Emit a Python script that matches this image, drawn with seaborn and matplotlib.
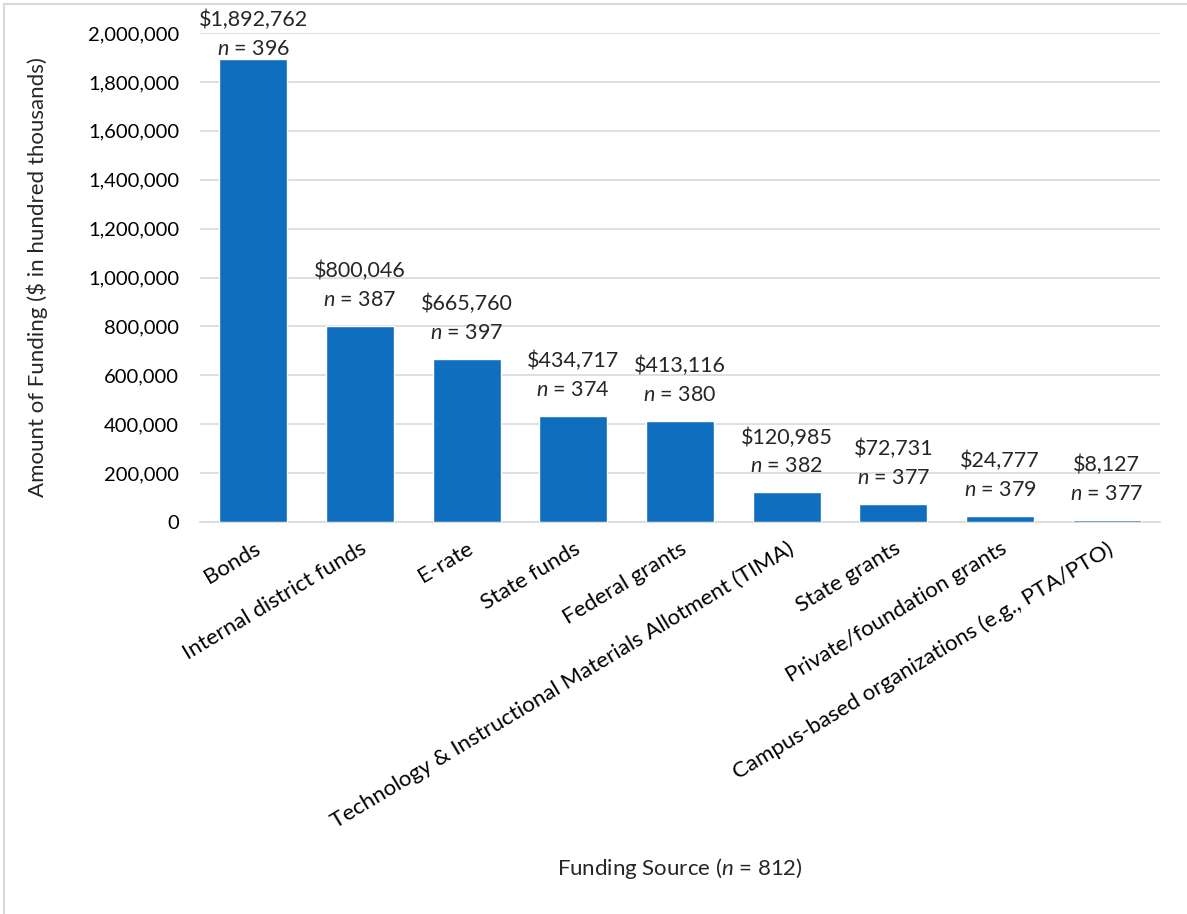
import matplotlib
matplotlib.use("Agg")
import matplotlib.pyplot as plt
import matplotlib.ticker as mticker
from matplotlib.patches import Rectangle
import seaborn as sns
import pandas as pd

sources = [
    "Bonds",
    "Internal district funds",
    "E-rate",
    "State funds",
    "Federal grants",
    "Technology & Instructional Materials Allotment (TIMA)",
    "State grants",
    "Private/foundation grants",
    "Campus-based organizations (e.g., PTA/PTO)",
]
amounts = [1892762, 800046, 665760, 434717, 413116, 120985, 72731, 24777, 8127]
respondents = [396, 387, 397, 374, 380, 382, 377, 379, 377]

sns.set_theme(style="white")
plt.rcParams["font.family"] = ["Lato", "DejaVu Sans"]
plt.rcParams["mathtext.fontset"] = "custom"
plt.rcParams["mathtext.it"] = "Lato:italic"
plt.rcParams["mathtext.rm"] = "Lato"

df = pd.DataFrame({"source": sources, "amount": amounts, "n": respondents})

W, H = 1187, 914
fig = plt.figure(figsize=(W / 100, H / 100), dpi=100)
ax = fig.add_axes([200 / W, 1 - 522 / H, 960 / W, 489 / H])

sns.barplot(data=df, x="source", y="amount", color="#106EBE", saturation=1,
            width=0.64, ax=ax, zorder=3)

ax.set_ylim(0, 2000000)
ax.set_xlim(-0.5, len(sources) - 0.5)
ax.yaxis.set_major_locator(mticker.MultipleLocator(200000))
ax.yaxis.set_major_formatter(mticker.FuncFormatter(lambda v, p: f"{int(v):,}"))
ax.grid(axis="y", color="#D9D9D9", linewidth=1.2, zorder=0)
for side in ["top", "right", "left"]:
    ax.spines[side].set_visible(False)
ax.spines["bottom"].set_color("#D9D9D9")
ax.spines["bottom"].set_linewidth(1.2)
ax.tick_params(axis="both", length=0, colors="black")
ax.tick_params(axis="y", labelsize=14.5, pad=15)
ax.tick_params(axis="x", labelsize=16, pad=12)
plt.setp(ax.get_xticklabels(), rotation=31, ha="right", rotation_mode="anchor")

ax.set_ylabel("Amount of Funding ($ in hundred thousands)", fontsize=16)
ax.set_xlabel(r"Funding Source ($\mathit{n}$ = 812)", fontsize=16)
ax.xaxis.set_label_coords(0.5, -0.683)
ax.yaxis.set_label_coords(-0.158, 0.5)

# value and respondent-count labels above each bar, kept inside the figure
fig.canvas.draw()
to_px = ax.transData
inv = to_px.inverted()
for i, (amt, n) in enumerate(zip(amounts, respondents)):
    x_px, top_px = to_px.transform((i, amt))
    n_y = top_px + 26
    val_y = top_px + 55
    max_val_y = H - 20
    if val_y > max_val_y:
        shift = val_y - max_val_y
        n_y -= shift
        val_y -= shift
    _, y_val = inv.transform((x_px, val_y))
    _, y_n = inv.transform((x_px, n_y))
    ax.text(i, y_val, f"${amt:,}", ha="center", va="center", fontsize=15.5,
            clip_on=False, zorder=5)
    ax.text(i, y_n, rf"$\mathit{{n}}$ = {n}", ha="center", va="center",
            fontsize=15.5, clip_on=False, zorder=5)

# light chart-area border
fig.patches.append(Rectangle((4 / W, -0.1), 1.2, 1 - 4 / H + 0.1,
                             transform=fig.transFigure, fill=False,
                             edgecolor="#D9D9D9", linewidth=1.5))

fig.savefig("out.png", dpi=100)
